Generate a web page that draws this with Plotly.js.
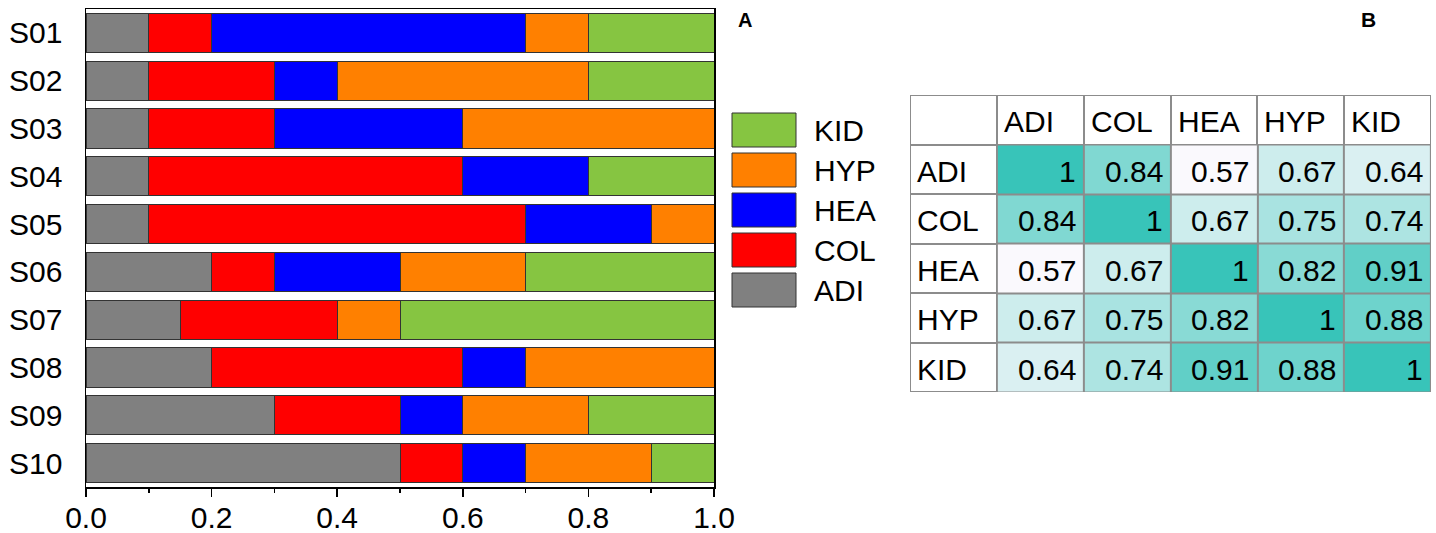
<!DOCTYPE html>
<html>
<head>
<meta charset="utf-8">
<script src="https://cdn.plot.ly/plotly-3.0.1.min.js"></script>
<style>
  html, body { margin: 0; padding: 0; background: #fff; }
  #chart { width: 1436px; height: 533px; }
</style>
</head>
<body>
<div id="chart"></div>
<script>
// Samples and their composition across the five tissue groups
const samples = ['S01', 'S02', 'S03', 'S04', 'S05', 'S06', 'S07', 'S08', 'S09', 'S10'];
const groupNames = ['ADI', 'COL', 'HEA', 'HYP', 'KID'];
const ADI = [0.1, 0.1, 0.1, 0.1, 0.1, 0.2, 0.15, 0.2, 0.3, 0.5];
const COL = [0.1, 0.2, 0.2, 0.5, 0.6, 0.1, 0.25, 0.4, 0.2, 0.1];
const HEA = [0.5, 0.1, 0.3, 0.2, 0.2, 0.2, 0.0, 0.1, 0.1, 0.1];
const HYP = [0.1, 0.4, 0.4, 0.0, 0.1, 0.2, 0.1, 0.3, 0.2, 0.2];
const KID = [0.2, 0.2, 0.0, 0.2, 0.0, 0.3, 0.5, 0.0, 0.2, 0.1];
const groupColors = ['#808080', '#ff0000', '#0000ff', '#ff8000', '#86c541'];
const xTicks = [0, 0.2, 0.4, 0.6, 0.8, 1.0];

// Pairwise correlation between groups (row-wise)
const corrLabels = ['ADI', 'COL', 'HEA', 'HYP', 'KID'];
const corrADI = [1, 0.84, 0.57, 0.67, 0.64];
const corrCOL = [0.84, 1, 0.67, 0.75, 0.74];
const corrHEA = [0.57, 0.67, 1, 0.82, 0.91];
const corrHYP = [0.67, 0.75, 0.82, 1, 0.88];
const corrKID = [0.64, 0.74, 0.91, 0.88, 1];

const FONT = '"Liberation Sans", Arial, sans-serif';
const FS = 30;
const W = 1436, H = 533;
const px = v => v / W;
const py = v => 1 - v / H;
const GRID = '#8c8c8c';

// Stacked composition bars
const groupValues = [ADI, COL, HEA, HYP, KID];
const traces = groupNames.map((name, i) => ({
  type: 'bar',
  orientation: 'h',
  name: name,
  y: samples,
  x: groupValues[i],
  marker: { color: groupColors[i], line: { color: '#333333', width: 1 } },
  showlegend: false,
  hoverinfo: 'x+y+name'
}));

// Correlation grid: header row/column cells (white) + shaded value cells
const corrRows = [corrADI, corrCOL, corrHEA, corrHYP, corrKID];
const allVals = corrRows.flat();
const vMin = Math.min(...allVals), vMax = Math.max(...allVals);
const gridIdx = [0].concat(corrLabels.map((_, i) => i + 1));
const valIdx = corrLabels.map((_, i) => i + 1);

traces.push({
  type: 'heatmap', xaxis: 'x2', yaxis: 'y2',
  x: gridIdx, y: gridIdx,
  z: gridIdx.map(r => gridIdx.map(c => (r === 0 || c === 0) ? 0 : null)),
  colorscale: [[0, '#ffffff'], [1, '#ffffff']],
  zmin: 0, zmax: 1,
  xgap: 2, ygap: 2, showscale: false, hoverinfo: 'skip'
});
traces.push({
  type: 'heatmap', xaxis: 'x2', yaxis: 'y2',
  x: valIdx, y: valIdx,
  z: corrRows,
  colorscale: [[0, 'rgb(250,249,253)'], [1, 'rgb(56,196,185)']],
  zmin: vMin, zmax: vMax,
  xgap: 2, ygap: 2, showscale: false,
  hovertemplate: '%{z}<extra></extra>'
});

const shapes = [{
  type: 'rect', xref: 'x2', yref: 'y2', layer: 'below',
  x0: -0.5, x1: gridIdx.length - 0.5, y0: -0.5, y1: gridIdx.length - 0.5,
  fillcolor: GRID, line: { color: GRID, width: 2.5 }
}];
const annotations = [];
const cellText = (x, y, text, anchor, shift) => annotations.push({
  xref: 'x2', yref: 'y2', x: x, y: y, text: text,
  xanchor: anchor, yanchor: 'middle', xshift: shift, yshift: -2,
  showarrow: false, font: { family: FONT, size: FS, color: '#000' }
});
corrLabels.forEach((lab, j) => {
  cellText(j + 0.5, 0, lab, 'left', 5);       // header row
  cellText(-0.5, j + 1, lab, 'left', 5);      // label column
});
corrRows.forEach((row, i) => row.forEach((v, j) => {
  cellText(j + 1.5, i + 1, String(v), 'right', -6);
}));

// Legend drawn as large swatches, top entry = last stacked group
const legendOrder = groupNames.map((_, i) => i).reverse();
legendOrder.forEach((gi, k) => {
  const cy = 130 + 40 * k;
  shapes.push({
    type: 'rect', xref: 'paper', yref: 'paper',
    x0: px(732), x1: px(796), y0: py(cy + 17), y1: py(cy - 17),
    fillcolor: groupColors[gi], line: { color: '#333333', width: 1 }
  });
  annotations.push({
    xref: 'paper', yref: 'paper', x: px(812), y: py(cy),
    xanchor: 'left', yanchor: 'middle', showarrow: false,
    text: groupNames[gi], font: { family: FONT, size: FS, color: '#000' }
  });
});

annotations.push({
  xref: 'paper', yref: 'paper', x: px(745), y: py(20),
  xanchor: 'center', yanchor: 'middle', showarrow: false,
  text: '<b>A</b>', font: { family: FONT, size: 20, color: '#000' }
});
annotations.push({
  xref: 'paper', yref: 'paper', x: px(1368), y: py(19),
  xanchor: 'center', yanchor: 'middle', showarrow: false,
  text: '<b>B</b>', font: { family: FONT, size: 21, color: '#000' }
});

const layout = {
  width: W, height: H,
  margin: { l: 0, r: 0, t: 0, b: 0 },
  paper_bgcolor: '#ffffff',
  plot_bgcolor: '#ffffff',
  barmode: 'stack',
  bargap: 0.18,
  font: { family: FONT, size: FS, color: '#000' },
  xaxis: {
    domain: [px(86), px(714)],
    range: [0, 1],
    tickvals: xTicks,
    tickformat: '.1f',
    ticks: 'outside', ticklen: 8, tickwidth: 1.5, tickcolor: '#000',
    minor: { dtick: 0.1, ticks: 'outside', ticklen: 4, tickwidth: 1.5, tickcolor: '#000' },
    showline: true, linecolor: '#000', linewidth: 1.5, mirror: true,
    showgrid: false, zeroline: false,
    ticklabelstandoff: -5,
    tickfont: { family: FONT, size: FS, color: '#000' },
    fixedrange: true
  },
  yaxis: {
    domain: [py(487), py(9)],
    type: 'category',
    categoryorder: 'array',
    categoryarray: samples,
    autorange: 'reversed',
    ticks: '',
    showline: true, linecolor: '#000', linewidth: 1.5, mirror: true,
    showgrid: false, zeroline: false,
    ticklabelstandoff: 16,
    tickfont: { family: FONT, size: FS, color: '#000' },
    fixedrange: true
  },
  xaxis2: {
    domain: [px(910), px(1431)], anchor: 'y2',
    range: [-0.5, gridIdx.length - 0.5],
    visible: false, fixedrange: true
  },
  yaxis2: {
    domain: [py(392), py(95)], anchor: 'x2',
    range: [gridIdx.length - 0.5, -0.5],
    visible: false, fixedrange: true
  },
  shapes: shapes,
  annotations: annotations
};

Plotly.newPlot('chart', traces, layout, { displayModeBar: false, staticPlot: true });
</script>
</body>
</html>
